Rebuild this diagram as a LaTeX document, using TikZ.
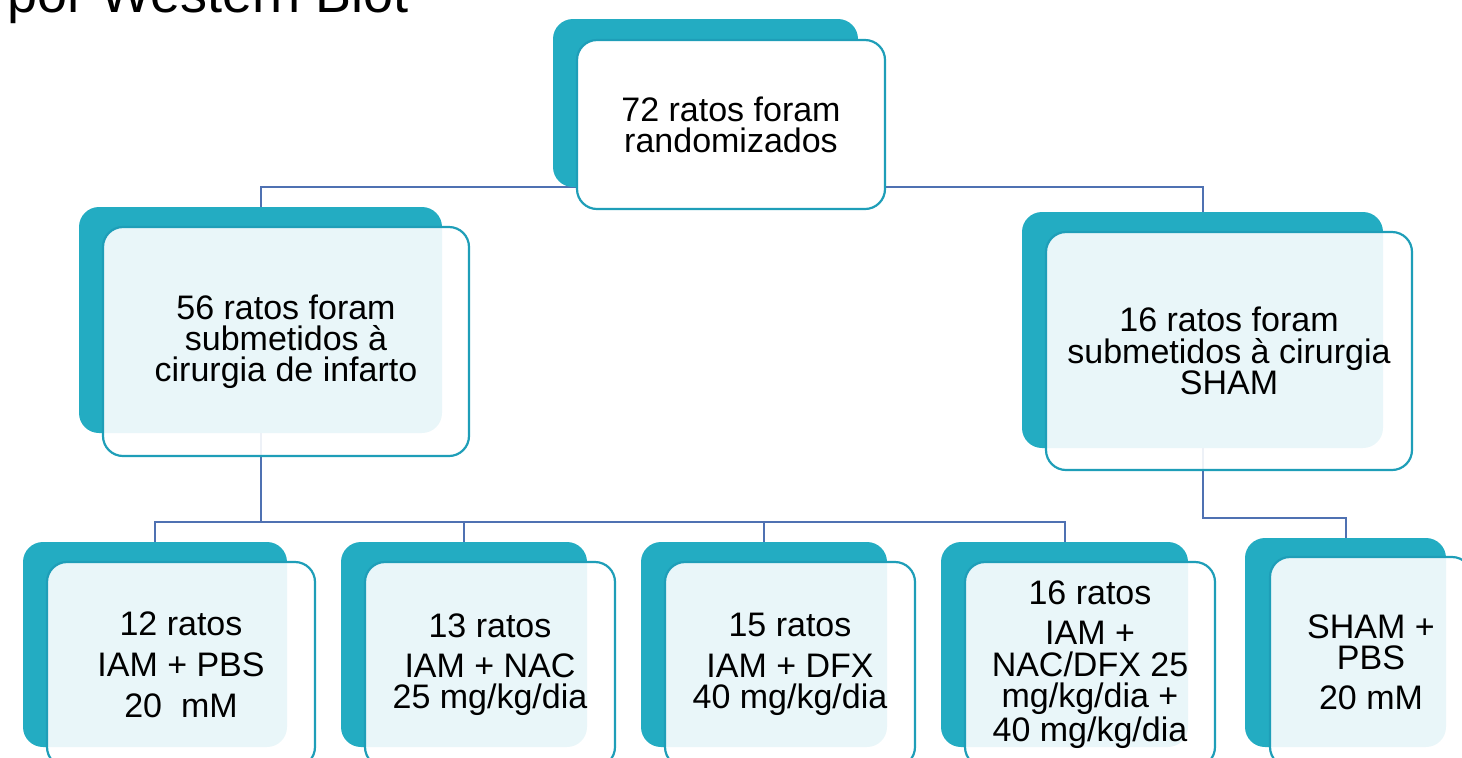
\documentclass[tikz,border=0pt]{standalone}
\usepackage{fontspec}
\setmainfont{Liberation Sans}
\usetikzlibrary{backgrounds}

\definecolor{petroleo}{RGB}{35,172,194}
\definecolor{bordapet}{RGB}{30,158,184}
\definecolor{ligacao}{RGB}{79,113,178}

\tikzset{
    fundo/.style={fill=petroleo, rounded corners=10pt, inner sep=0pt, outer sep=0pt},
    caixa/.style={draw=bordapet, line width=1.1pt, fill=white, fill opacity=0.9, text opacity=1,
        rounded corners=10pt, align=center, inner sep=0pt, outer sep=0pt,
        font=\fontsize{17}{15.6}\selectfont},
    liga/.style={draw=ligacao, line width=1pt},
}

\begin{document}
\begin{tikzpicture}[x=0.5pt, y=-0.5pt]
    \useasboundingbox (0,0) rectangle (1462,757);

        % Titulo, cortado no alto da pagina
        \node[anchor=base west, inner sep=0pt, font=\fontsize{27}{30}\selectfont] (titulo) at (7,12) {por Western Blot};

        % Nivel 1
        \node[fundo, minimum width=152.5pt, minimum height=84pt] (f0) at (705.5,103) {};
        \node[caixa, fill opacity=1, minimum width=154pt, minimum height=84.5pt] (c0) at (731,124.5)
            {72 ratos foram\\randomizados};

        % Nivel 2: infarto e SHAM
        \node[fundo, minimum width=181.5pt, minimum height=113pt] (f1) at (260.5,320) {};
        \node[caixa, minimum width=183pt, minimum height=114.5pt] (c1) at (286,341.5)
            {56 ratos foram\\submetidos à\\cirurgia de infarto};
        \node[fundo, minimum width=180.5pt, minimum height=118pt] (f2) at (1202.5,330) {};
        \node[caixa, minimum width=183pt, minimum height=119pt] (c2) at (1229,351)
            {16 ratos foram\\submetidos à cirurgia\\SHAM};

        % Nivel 3: grupos de tratamento
        \node[fundo, minimum width=132pt, minimum height=102.5pt] (f3) at (155,644.5) {};
        \node[caixa, minimum width=134pt, minimum height=102.5pt] (c3) at (181,664.5)
            {12 ratos\\[5pt]IAM + PBS\\[5pt]20~~mM};
        \node[fundo, minimum width=123pt, minimum height=102.5pt] (f4) at (464,644.5) {};
        \node[caixa, minimum width=125pt, minimum height=102.5pt] (c4) at (490,664.5)
            {13 ratos\\[4.5pt]IAM + NAC\\25 mg/kg/dia};
        \node[fundo, minimum width=123pt, minimum height=102.5pt] (f5) at (764,644.5) {};
        \node[caixa, minimum width=125pt, minimum height=102.5pt] (c5) at (790,664.5)
            {15 ratos\\[4.5pt]IAM + DFX\\40 mg/kg/dia};
        \node[fundo, minimum width=123.5pt, minimum height=102.5pt] (f6) at (1064.5,644.5) {};
        \node[caixa, minimum width=125pt, minimum height=102.5pt] (c6) at (1090,664.5)
            {16 ratos\\[4.5pt]IAM +\\NAC/DFX 25\\mg/kg/dia +\\40 mg/kg/dia};
        \node[fundo, minimum width=100.5pt, minimum height=104.5pt] (f7) at (1345.5,642.5) {};
        \node[caixa, minimum width=101pt, minimum height=105pt] (c7) at (1371,662)
            {SHAM +\\PBS\\[4.5pt]20 mM};

        % Ligacoes, por baixo das caixas
        \begin{scope}[on background layer]
            \draw[liga] (f0.south) -| (f1.north);
            \draw[liga] (f0.south) -| (f2.north);
            \coordinate (r1) at (260.5,522);
            \draw[liga] (f1.south) -- (r1) -| (f3.north);
            \draw[liga] (r1) -| (f4.north);
            \draw[liga] (r1) -| (f5.north);
            \draw[liga] (r1) -| (f6.north);
            \coordinate (r2) at (1202.5,518);
            \draw[liga] (f2.south) -- (r2) -| (f7.north);
        \end{scope}
    \end{tikzpicture}
\end{document}
